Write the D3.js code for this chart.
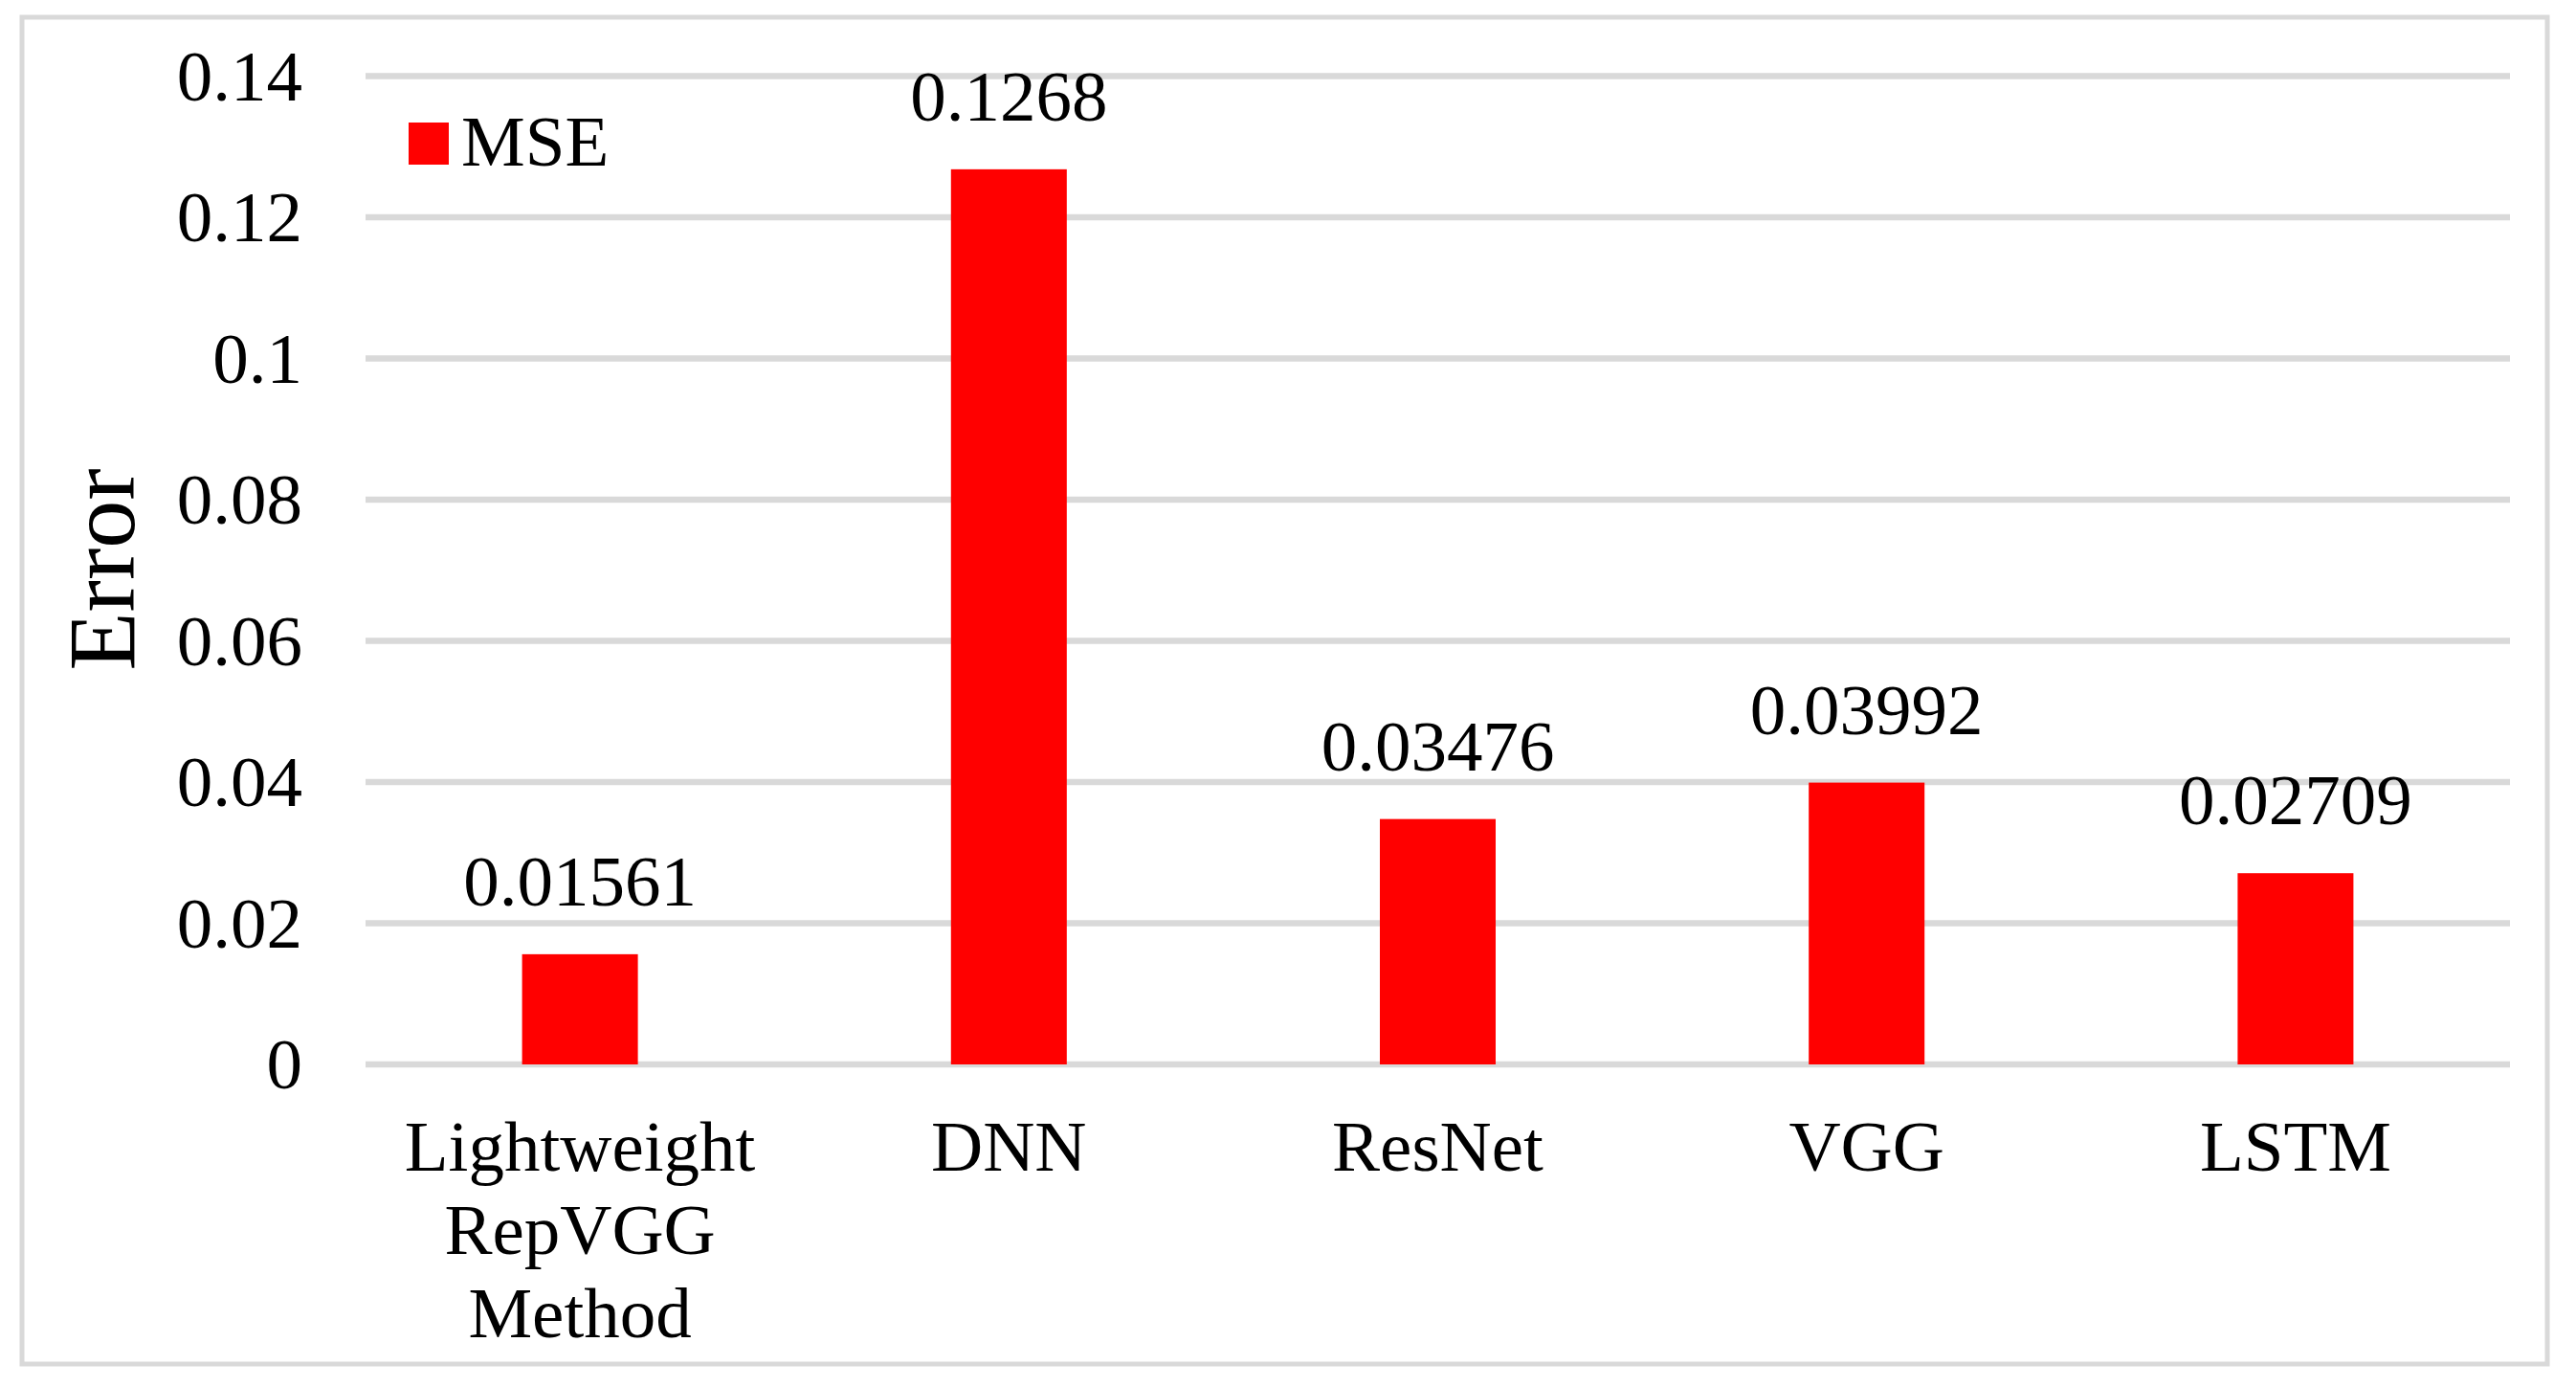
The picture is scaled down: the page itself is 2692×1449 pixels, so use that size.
<!DOCTYPE html>
<html>
<head>
<meta charset="utf-8">
<script src="https://cdn.jsdelivr.net/npm/d3@7/dist/d3.min.js"></script>
<style>
  html, body { margin: 0; padding: 0; background: #ffffff; }
  svg { display: block; }
  text { font-family: "Liberation Serif", "Times New Roman", serif; fill: #000; }
</style>
</head>
<body>
<svg id="chart" width="2692" height="1449"></svg>
<script>
// ---- Data ----
const categories = [["Lightweight", "RepVGG", "Method"], ["DNN"], ["ResNet"], ["VGG"], ["LSTM"]];
const categoryKeys = ["Lightweight RepVGG Method", "DNN", "ResNet", "VGG", "LSTM"];
const mseValues = [0.01561, 0.1268, 0.03476, 0.03992, 0.02709];
const valueLabels = ["0.01561", "0.1268", "0.03476", "0.03992", "0.02709"];
const yTicks = [0, 0.02, 0.04, 0.06, 0.08, 0.1, 0.12, 0.14];
const yTickLabels = ["0", "0.02", "0.04", "0.06", "0.08", "0.1", "0.12", "0.14"];
const seriesName = "MSE";
const yAxisTitle = "Error";

// ---- Layout ----
const svg = d3.select("#chart");
const W = 2692, H = 1449;
const plot = { left: 382, right: 2623, top: 79.5, bottom: 1112 };
const fontSize = 75;
const red = "#ff0000";
const gridColor = "#d9d9d9";

svg.append("rect").attr("width", W).attr("height", H).attr("fill", "#fff");

// outer border
svg.append("rect")
  .attr("x", 23).attr("y", 18)
  .attr("width", 2662 - 23).attr("height", 1425 - 18)
  .attr("fill", "none").attr("stroke", gridColor).attr("stroke-width", 5);

const x = d3.scaleBand()
  .domain(categoryKeys)
  .range([plot.left, plot.right])
  .paddingInner(0.73)
  .paddingOuter(0.365);

const y = d3.scaleLinear()
  .domain([0, 0.14])
  .range([plot.bottom, plot.top]);

// gridlines
svg.append("g").selectAll("line")
  .data(yTicks)
  .join("line")
  .attr("x1", plot.left).attr("x2", plot.right)
  .attr("y1", d => y(d)).attr("y2", d => y(d))
  .attr("stroke", gridColor).attr("stroke-width", 6.5);

// y tick labels
svg.append("g").selectAll("text")
  .data(yTicks)
  .join("text")
  .attr("x", 316)
  .attr("y", d => y(d) + 25)
  .attr("text-anchor", "end")
  .attr("font-size", fontSize)
  .text((d, i) => yTickLabels[i]);

// bars
svg.append("g").selectAll("rect")
  .data(mseValues)
  .join("rect")
  .attr("x", (d, i) => x(categoryKeys[i]))
  .attr("width", x.bandwidth())
  .attr("y", d => y(d))
  .attr("height", d => y(0) - y(d))
  .attr("fill", red);

// value labels
svg.append("g").selectAll("text")
  .data(mseValues)
  .join("text")
  .attr("x", (d, i) => x(categoryKeys[i]) + x.bandwidth() / 2)
  .attr("y", d => y(d) - 51)
  .attr("text-anchor", "middle")
  .attr("font-size", fontSize)
  .text((d, i) => valueLabels[i]);

// category labels
const catG = svg.append("g");
categories.forEach((lines, i) => {
  const cx = x(categoryKeys[i]) + x.bandwidth() / 2;
  const t = catG.append("text")
    .attr("x", cx)
    .attr("y", 1223)
    .attr("text-anchor", "middle")
    .attr("font-size", fontSize);
  lines.forEach((ln, j) => {
    t.append("tspan").attr("x", cx).attr("y", 1223 + j * 87).text(ln);
  });
});

// y-axis title
svg.append("text")
  .attr("transform", "translate(140,595) rotate(-90)")
  .attr("text-anchor", "middle")
  .attr("font-size", 100)
  .text(yAxisTitle);

// legend
svg.append("rect")
  .attr("x", 427).attr("y", 128)
  .attr("width", 42).attr("height", 44)
  .attr("fill", red);
svg.append("text")
  .attr("x", 482).attr("y", 173)
  .attr("font-size", fontSize)
  .text(seriesName);
</script>
</body>
</html>
